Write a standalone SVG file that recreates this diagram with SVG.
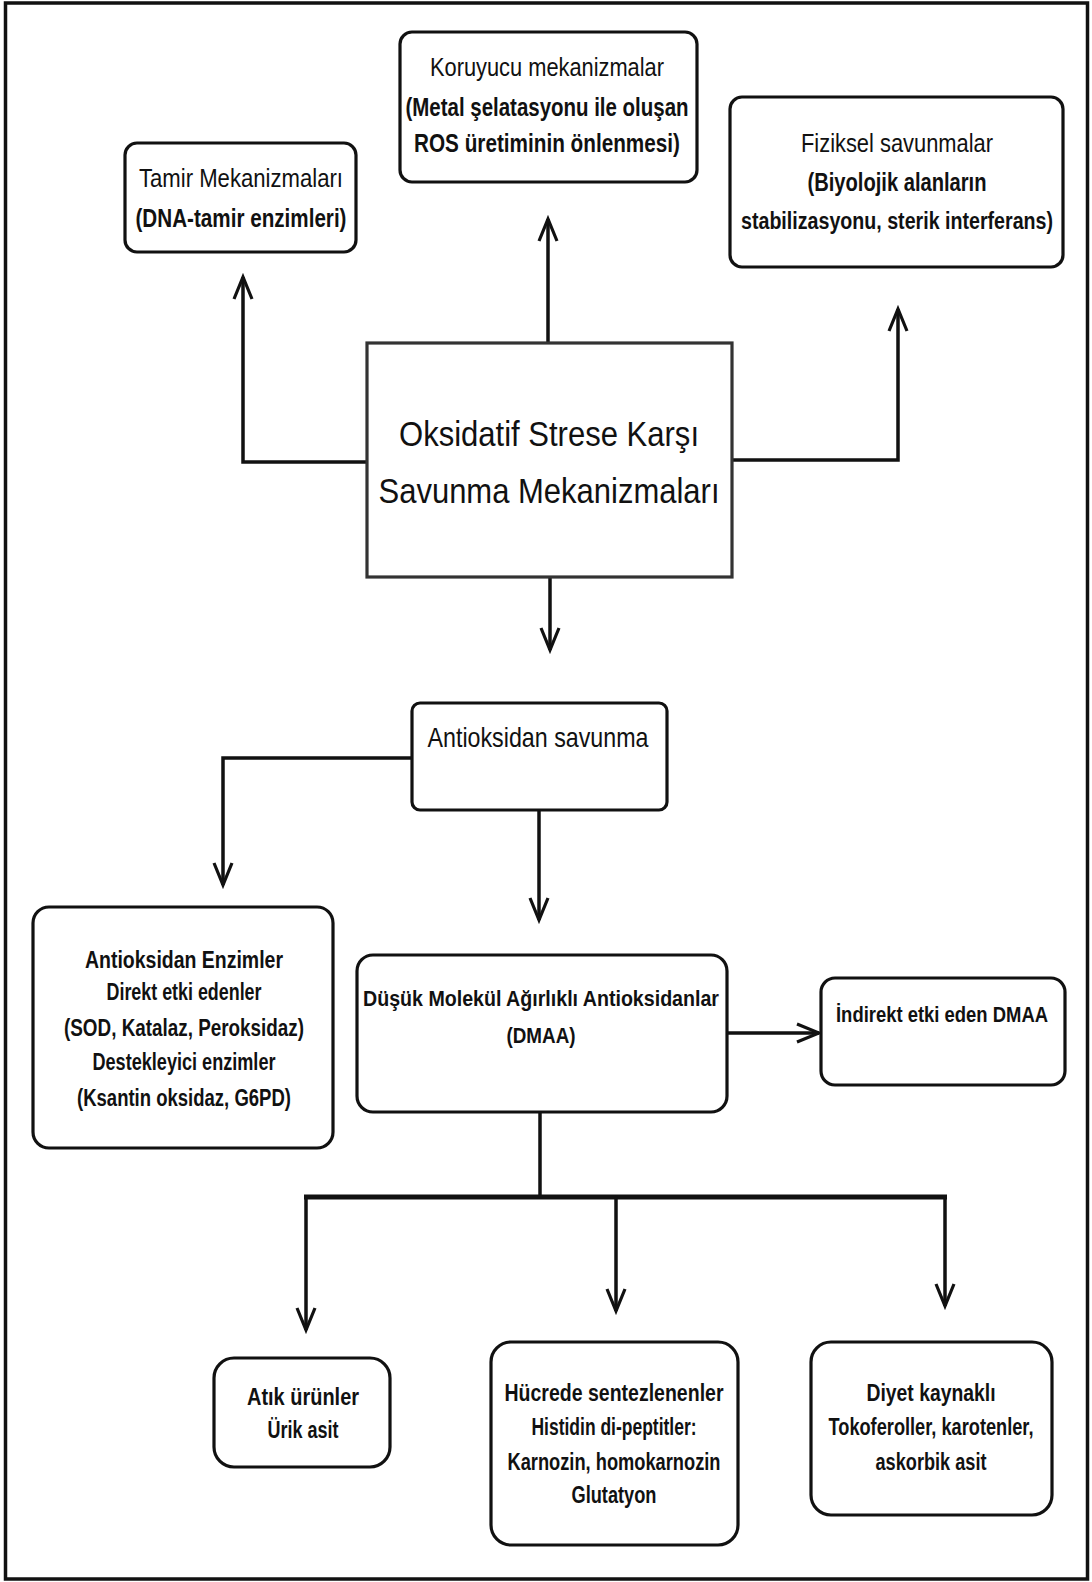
<svg xmlns="http://www.w3.org/2000/svg" width="1092" height="1582" viewBox="0 0 1092 1582">
<defs>
<style>
.box{fill:#fff;stroke:#111;stroke-width:3.2}
.cbox{fill:#fff;stroke:#333;stroke-width:3.2}
.t{font-family:"Liberation Sans Narrow","Liberation Sans",Arial,sans-serif;fill:#111;text-anchor:middle}
.b{font-weight:bold}
.c{fill:none;stroke:#111;stroke-width:3.5}
</style>
<marker id="arr" markerUnits="userSpaceOnUse" viewBox="-26 -12 30 24" markerWidth="30" markerHeight="24" refX="0" refY="0" orient="auto">
<path d="M-22,-9 L0,0 L-22,9" fill="none" stroke="#111" stroke-width="3.2" stroke-linejoin="miter"/>
</marker>
</defs>
<rect x="0" y="0" width="1092" height="1582" fill="#fff"/>
<rect x="5.5" y="3" width="1082" height="1576" fill="none" stroke="#111" stroke-width="3.5"/>

<g id="connectors">
<path class="c" d="M367,462 H243 V277" marker-end="url(#arr)"/>
<path class="c" d="M548,343 V219" marker-end="url(#arr)"/>
<path class="c" d="M732,460 H898 V309" marker-end="url(#arr)"/>
<path class="c" d="M550,577 V650" marker-end="url(#arr)"/>
<path class="c" d="M412,758 H223 V885" marker-end="url(#arr)"/>
<path class="c" d="M539,810 V920" marker-end="url(#arr)"/>
<path class="c" d="M727,1033 H819" marker-end="url(#arr)"/>
<path class="c" d="M540,1112 V1197"/>
<path class="c" style="stroke-width:5" d="M304,1197 H947"/>
<path class="c" d="M306,1197 V1330" marker-end="url(#arr)"/>
<path class="c" d="M616,1197 V1311" marker-end="url(#arr)"/>
<path class="c" d="M945,1197 V1306" marker-end="url(#arr)"/>
</g>

<g id="tamir">
<rect class="box" x="125" y="143" width="231" height="109" rx="12"/>
<text class="t" x="241" y="187" font-size="25" textLength="204" lengthAdjust="spacingAndGlyphs">Tamir Mekanizmaları</text>
<text class="t b" x="241" y="227" font-size="25" textLength="211" lengthAdjust="spacingAndGlyphs">(DNA-tamir enzimleri)</text>
</g>

<g id="koruyucu">
<rect class="box" x="400" y="32" width="297" height="150" rx="12"/>
<text class="t" x="547" y="76" font-size="25" textLength="234" lengthAdjust="spacingAndGlyphs">Koruyucu mekanizmalar</text>
<text class="t b" x="547" y="116" font-size="25" textLength="283" lengthAdjust="spacingAndGlyphs">(Metal şelatasyonu ile oluşan</text>
<text class="t b" x="547" y="152" font-size="25" textLength="266" lengthAdjust="spacingAndGlyphs">ROS üretiminin önlenmesi)</text>
</g>

<g id="fiziksel">
<rect class="box" x="730" y="97" width="333" height="170" rx="12"/>
<text class="t" x="897" y="152" font-size="25" textLength="192" lengthAdjust="spacingAndGlyphs">Fiziksel savunmalar</text>
<text class="t b" x="897" y="191" font-size="25" textLength="179" lengthAdjust="spacingAndGlyphs">(Biyolojik alanların</text>
<text class="t b" transform="translate(897 229) scale(1 1.15)" x="0" y="0" font-size="20.5" textLength="312" lengthAdjust="spacingAndGlyphs">stabilizasyonu, sterik interferans)</text>
</g>

<g id="merkez">
<rect class="cbox" x="367" y="343" width="365" height="234"/>
<text class="t" x="549" y="446" font-size="35" textLength="300" lengthAdjust="spacingAndGlyphs">Oksidatif Strese Karşı</text>
<text class="t" x="549" y="503" font-size="35" textLength="341" lengthAdjust="spacingAndGlyphs">Savunma Mekanizmaları</text>
</g>

<g id="antioksidan-savunma">
<rect class="box" x="412" y="703" width="255" height="107" rx="8"/>
<text class="t" x="538" y="747" font-size="28" textLength="221" lengthAdjust="spacingAndGlyphs">Antioksidan savunma</text>
</g>

<g id="enzimler">
<rect class="box" x="33" y="907" width="300" height="241" rx="16"/>
<text class="t b" x="184" y="968" font-size="23" textLength="198" lengthAdjust="spacingAndGlyphs">Antioksidan Enzimler</text>
<text class="t b" x="184" y="1000" font-size="23" textLength="155" lengthAdjust="spacingAndGlyphs">Direkt etki edenler</text>
<text class="t b" x="184" y="1036" font-size="23" textLength="240" lengthAdjust="spacingAndGlyphs">(SOD, Katalaz, Peroksidaz)</text>
<text class="t b" x="184" y="1070" font-size="23" textLength="183" lengthAdjust="spacingAndGlyphs">Destekleyici enzimler</text>
<text class="t b" x="184" y="1106" font-size="23" textLength="214" lengthAdjust="spacingAndGlyphs">(Ksantin oksidaz, G6PD)</text>
</g>

<g id="dmaa">
<rect class="box" x="357" y="955" width="370" height="157" rx="16"/>
<text class="t b" x="541" y="1006" font-size="22" textLength="356" lengthAdjust="spacingAndGlyphs">Düşük Molekül Ağırlıklı Antioksidanlar</text>
<text class="t b" x="541" y="1043" font-size="22" textLength="69" lengthAdjust="spacingAndGlyphs">(DMAA)</text>
</g>

<g id="indirekt">
<rect class="box" x="821" y="978" width="244" height="107" rx="14"/>
<text class="t b" x="942" y="1022" font-size="22" textLength="212" lengthAdjust="spacingAndGlyphs">İndirekt etki eden DMAA</text>
</g>

<g id="atik">
<rect class="box" x="214" y="1358" width="176" height="109" rx="20"/>
<text class="t b" x="303" y="1405" font-size="23" textLength="112" lengthAdjust="spacingAndGlyphs">Atık ürünler</text>
<text class="t b" x="303" y="1438" font-size="23" textLength="71" lengthAdjust="spacingAndGlyphs">Ürik asit</text>
</g>

<g id="hucrede">
<rect class="box" x="491" y="1342" width="247" height="203" rx="20"/>
<text class="t b" x="614" y="1401" font-size="23" textLength="219" lengthAdjust="spacingAndGlyphs">Hücrede sentezlenenler</text>
<text class="t b" x="614" y="1435" font-size="23" textLength="165" lengthAdjust="spacingAndGlyphs">Histidin di-peptitler:</text>
<text class="t b" x="614" y="1470" font-size="23" textLength="213" lengthAdjust="spacingAndGlyphs">Karnozin, homokarnozin</text>
<text class="t b" x="614" y="1503" font-size="23" textLength="85" lengthAdjust="spacingAndGlyphs">Glutatyon</text>
</g>

<g id="diyet">
<rect class="box" x="811" y="1342" width="241" height="173" rx="20"/>
<text class="t b" x="931" y="1401" font-size="23" textLength="129" lengthAdjust="spacingAndGlyphs">Diyet kaynaklı</text>
<text class="t b" x="931" y="1435" font-size="23" textLength="205" lengthAdjust="spacingAndGlyphs">Tokoferoller, karotenler,</text>
<text class="t b" x="931" y="1470" font-size="23" textLength="111" lengthAdjust="spacingAndGlyphs">askorbik asit</text>
</g>
</svg>
